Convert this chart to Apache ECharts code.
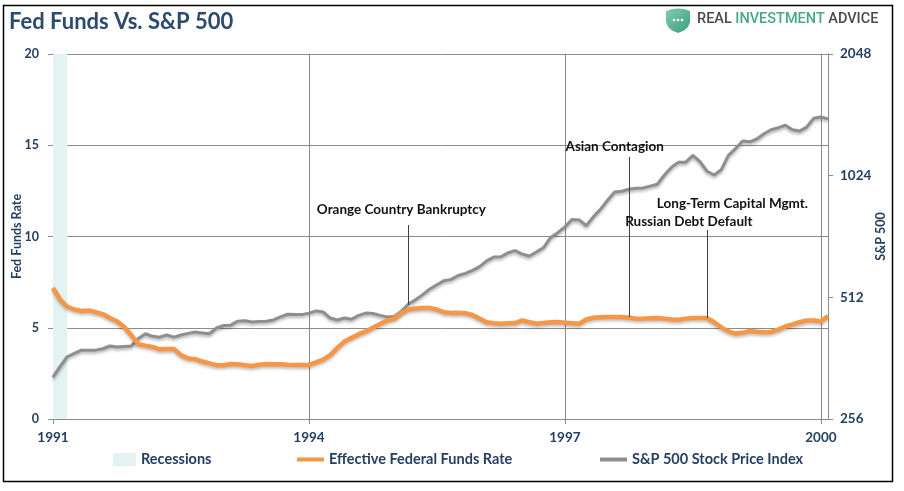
<!DOCTYPE html>
<html>
<head>
<meta charset="utf-8">
<script src="https://cdn.jsdelivr.net/npm/echarts@6/dist/echarts.min.js"></script>
<style>html,body{margin:0;padding:0;background:#fff;}#c{width:904px;height:491px;}</style>
</head>
<body>
<div id="c"></div>
<script>
// ---- data ----
const startYear = 1991, endMonth = '2000-02';
const months = [];
for (let y = startYear; y <= 2000; y++) {
  for (let m = 1; m <= 12; m++) {
    const s = y + '-' + (m < 10 ? '0' + m : m);
    months.push(s);
    if (s === endMonth) break;
  }
}
const yearTicks = ['1991', '1994', '1997', '2000'];
const recession = ['1991-01', '1991-03'];
const fedFunds = [
  7.18, 6.55, 6.15, 6.0, 5.92, 5.95, 5.85, 5.75, 5.53, 5.35,
  5.05, 4.6, 4.1, 4.02, 3.95, 3.82, 3.84, 3.84, 3.5, 3.33,
  3.28, 3.15, 3.05, 2.95, 2.95, 3.01, 3.0, 2.95, 2.9, 2.97,
  3.01, 3.0, 3.0, 2.97, 2.96, 2.96, 2.96, 3.1, 3.25, 3.5,
  3.9, 4.25, 4.45, 4.65, 4.8, 5.0, 5.2, 5.4, 5.5, 5.8,
  6.0, 6.06, 6.08, 6.08, 6.0, 5.85, 5.81, 5.82, 5.8, 5.7,
  5.5, 5.3, 5.25, 5.22, 5.24, 5.26, 5.4, 5.3, 5.22, 5.26,
  5.3, 5.31, 5.28, 5.25, 5.22, 5.45, 5.55, 5.57, 5.59, 5.59,
  5.59, 5.55, 5.5, 5.5, 5.52, 5.53, 5.5, 5.45, 5.44, 5.5,
  5.53, 5.53, 5.53, 5.3, 5.02, 4.8, 4.68, 4.72, 4.82, 4.78,
  4.76, 4.77, 4.9, 5.07, 5.18, 5.3, 5.4, 5.4, 5.35, 5.64
];
const sp500 = [
  325, 345, 365, 372, 379, 379, 379, 382, 388, 386,
  387, 388, 405, 416, 410, 408, 413, 408, 413, 417,
  420, 418, 416, 430, 436, 437, 447, 448, 445, 446,
  447, 450, 458, 465, 464, 464, 468, 474, 471, 455,
  450, 455, 452, 462, 468, 467, 462, 458, 459, 473,
  493, 505, 520, 537, 550, 563, 567, 580, 587, 597,
  610, 630, 644, 645, 660, 668, 655, 648, 663, 680,
  720, 740, 765, 798, 796, 770, 810, 845, 890, 933,
  937, 948, 953, 955, 965, 975, 1028, 1075, 1106, 1106,
  1150, 1110, 1050, 1028, 1060, 1150, 1195, 1247, 1242, 1262,
  1300, 1330, 1345, 1365, 1330, 1320, 1350, 1420, 1430, 1415
];
// annotations: [label, month of text, fed-rate level of text, pixel offset]
const annotationTexts = [
  ['Orange Country Bankruptcy', '1995-02', 11.45, [0, 0]],
  ['Asian Contagion', '1997-08', 14.9, [0, 0]],
  ['Long-Term Capital Mgmt.', '1998-12', 11.78, [4, 0]],
  ['Russian Debt Default', '1998-06', 10.79, [3, 0]]
];
// annotation leaders: [month, top level, bottom level]
const annotationLines = [
  ['1995-03', 10.63, 6.25],
  ['1997-10', 14.36, 5.59],
  ['1998-09', 10.36, 5.53]
];

const NAVY = '#243f60';
const GRID = '#8c8c8c';
const FONT = 'Lato, "Liberation Sans", sans-serif';
const isYearTick = (i) => yearTicks.includes(months[i].slice(0, 4)) && months[i].slice(5) === '01';

const chart = echarts.init(document.getElementById('c'), null, {renderer: 'canvas'});
const legendBase = {
  top: 452, selectedMode: false, itemGap: 0, padding: 0,
  textStyle: {color: NAVY, fontWeight: 'bold', fontSize: 14.5, fontFamily: FONT}
};
chart.setOption({
  animation: false,
  backgroundColor: '#fff',
  title: {
    text: 'Fed Funds Vs. S&P 500', left: 4, top: 6,
    textStyle: {color: '#2b4a6e', fontWeight: 'bold', fontSize: 22, fontFamily: FONT}
  },
  grid: {left: 53, right: 76, top: 54, bottom: 72, containLabel: false, outerBoundsMode: 'none'},
  legend: [
    Object.assign({}, legendBase, {left: 113, data: [{name: 'Recessions', icon: 'rect'}], itemWidth: 23, itemHeight: 13}),
    Object.assign({}, legendBase, {left: 297, data: [{name: 'Effective Federal Funds Rate', icon: 'rect'}], itemWidth: 27, itemHeight: 4}),
    Object.assign({}, legendBase, {left: 600, data: [{name: 'S&P 500 Stock Price Index', icon: 'rect'}], itemWidth: 27, itemHeight: 4})
  ],
  xAxis: {
    type: 'category', data: months, boundaryGap: false,
    axisLine: {lineStyle: {color: GRID, width: 1}},
    axisTick: {show: true, length: 5, interval: (i) => isYearTick(i), lineStyle: {color: GRID}},
    axisLabel: {
      interval: (i) => isYearTick(i), margin: 12,
      formatter: (v) => v.slice(0, 4),
      color: NAVY, fontWeight: 'bold', fontSize: 13.5, fontFamily: FONT
    },
    splitLine: {show: true, interval: (i) => isYearTick(i) && i > 0, lineStyle: {color: GRID, width: 1}}
  },
  yAxis: [
    {
      type: 'value', min: 0, max: 20, interval: 5, position: 'left',
      name: 'Fed Funds Rate', nameLocation: 'middle', nameGap: 30, nameMoveOverlap: false,
      nameTextStyle: {color: NAVY, fontWeight: 'bold', fontSize: 12.5, fontFamily: FONT},
      axisLine: {show: true, lineStyle: {color: GRID}},
      axisTick: {show: true, length: 5, lineStyle: {color: GRID}},
      axisLabel: {margin: 14, color: NAVY, fontWeight: 'bold', fontSize: 12.5, fontFamily: FONT},
      splitLine: {show: true, lineStyle: {color: GRID, width: 1}}
    },
    {
      type: 'log', logBase: 2, min: 256, max: 2048, position: 'right',
      name: 'S&P 500', nameLocation: 'middle', nameGap: 46, nameMoveOverlap: false,
      nameTextStyle: {color: NAVY, fontWeight: 'bold', fontSize: 12.5, fontFamily: FONT},
      axisLine: {show: true, lineStyle: {color: GRID}},
      axisTick: {show: true, length: 5, lineStyle: {color: GRID}},
      axisLabel: {margin: 12, color: NAVY, fontWeight: 'bold', fontSize: 13.5, fontFamily: FONT, formatter: (v) => String(Math.round(v))},
      splitLine: {show: false}
    }
  ],
  series: [
    {
      name: 'Recessions', type: 'line', data: [], yAxisIndex: 0, z: 1,
      color: '#e2f3f1', itemStyle: {color: '#e2f3f1'},
      markArea: {
        silent: true, itemStyle: {color: '#e2f3f1'},
        data: [[{xAxis: recession[0]}, {xAxis: recession[1]}]]
      }
    },
    {
      name: 'S&P 500 Stock Price Index', type: 'line', yAxisIndex: 1, z: 3,
      data: sp500, showSymbol: false, smooth: false, color: '#8e8e8e',
      lineStyle: {color: '#8e8e8e', width: 3, shadowColor: 'rgba(0,0,0,0.3)', shadowBlur: 3, shadowOffsetY: 2}
    },
    {
      name: 'Effective Federal Funds Rate', type: 'line', yAxisIndex: 0, z: 4,
      data: fedFunds, showSymbol: false, color: '#f79646',
      lineStyle: {color: '#f79646', width: 4.5, shadowColor: 'rgba(0,0,0,0.25)', shadowBlur: 3, shadowOffsetY: 2},
      markLine: {
        silent: true, symbol: 'none', label: {show: false},
        lineStyle: {color: '#404040', width: 1, type: 'solid'},
        data: annotationLines.map(a => [{coord: [a[0], a[1]]}, {coord: [a[0], a[2]]}])
      },
      markPoint: {
        silent: true, symbol: 'circle', symbolSize: 0,
        label: {
          show: true, position: 'inside', color: '#111', fontWeight: 'bold', fontSize: 13.5, fontFamily: FONT,
          formatter: (p) => p.name
        },
        data: annotationTexts.map(a => ({name: a[0], coord: [a[1], a[2]], label: {offset: a[3]}}))
      }
    }
  ],
  graphic: [
    {
      type: 'rect', silent: true, z: 100,
      shape: {x: 3.5, y: 5.5, width: 889, height: 476},
      style: {fill: 'none', stroke: '#000', lineWidth: 1.5}
    },
    {
      type: 'polygon', silent: true, z: 100,
      shape: {points: [[666, 11], [672, 9], [678, 8.5], [684, 9], [690, 11], [690, 22], [688, 27], [684, 30.5], [678, 33], [672, 30.5], [668, 27], [666, 22]]},
      style: {fill: {type: 'linear', x: 0, y: 0, x2: 1, y2: 1, colorStops: [{offset: 0, color: '#7fcdb1'}, {offset: 1, color: '#3d9c7d'}]}}
    },
    {type: 'circle', silent: true, z: 101, shape: {cx: 674, cy: 20, r: 1.3}, style: {fill: '#fff'}},
    {type: 'circle', silent: true, z: 101, shape: {cx: 678, cy: 20, r: 1.3}, style: {fill: '#fff'}},
    {type: 'circle', silent: true, z: 101, shape: {cx: 682, cy: 20, r: 1.3}, style: {fill: '#fff'}},
    {
      type: 'text', left: 697, top: 12, z: 100,
      style: {
        text: '{a|REAL }{b|INVESTMENT}{a| ADVICE}',
        rich: {
          a: {fill: '#4a4a4a', color: '#4a4a4a', fontSize: 14.5, fontWeight: 500, fontFamily: 'Roboto, sans-serif'},
          b: {fill: '#46a984', color: '#46a984', fontSize: 14.5, fontWeight: 500, fontFamily: 'Roboto, sans-serif'}
        }
      }
    }
  ]
});
</script>
</body>
</html>
